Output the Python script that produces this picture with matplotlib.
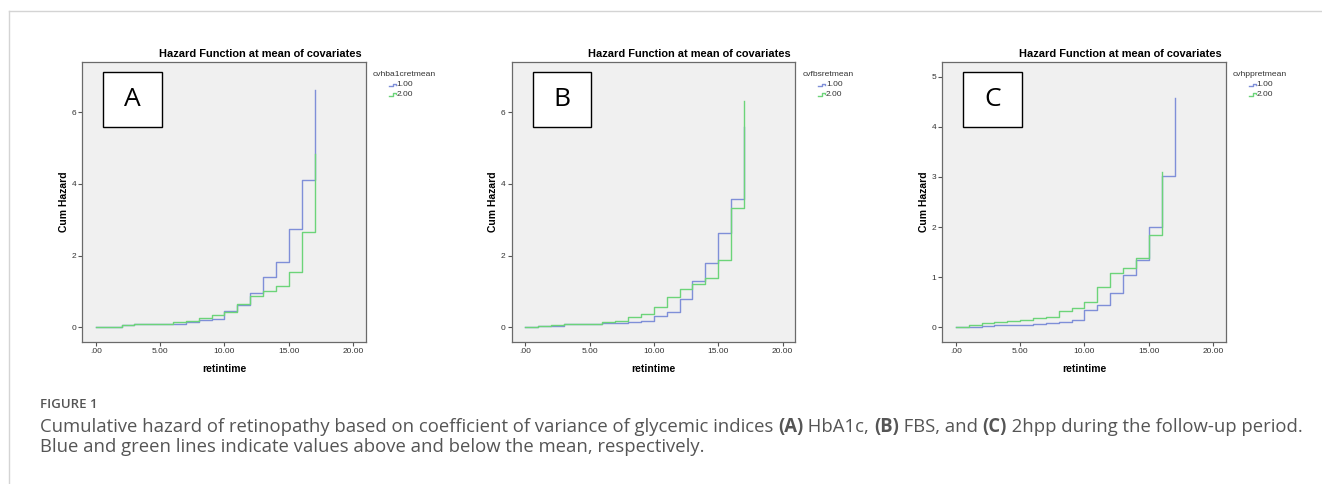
import matplotlib
matplotlib.use("Agg")
import matplotlib.pyplot as plt
from matplotlib.patches import Rectangle
from matplotlib.lines import Line2D

plt.rcParams["font.family"] = ["Liberation Sans", "DejaVu Sans"]

W, H = 1322, 484

# step times (years) and cumulative hazard
times = list(range(0, 18))

a_blue = [0, 0.02, 0.06, 0.08, 0.08, 0.09, 0.08, 0.14, 0.20, 0.22, 0.45, 0.63,
          0.95, 1.40, 1.82, 2.75, 4.10, 6.62]
a_green = [0, 0.02, 0.06, 0.08, 0.08, 0.10, 0.15, 0.17, 0.25, 0.33, 0.44, 0.64,
           0.88, 1.00, 1.15, 1.55, 2.65, 4.82]

b_blue = [0, 0.04, 0.05, 0.08, 0.08, 0.10, 0.12, 0.13, 0.14, 0.18, 0.32, 0.43,
          0.80, 1.28, 1.78, 2.62, 3.57, 5.60]
b_green = [0, 0.03, 0.07, 0.08, 0.08, 0.10, 0.14, 0.17, 0.29, 0.36, 0.57, 0.84,
           1.08, 1.22, 1.37, 1.87, 3.32, 6.30]

c_blue = [0, 0.01, 0.02, 0.04, 0.04, 0.04, 0.06, 0.08, 0.10, 0.15, 0.35, 0.44,
          0.68, 1.05, 1.35, 2.00, 3.01, 4.58]
c_green = [0, 0.04, 0.08, 0.11, 0.12, 0.14, 0.18, 0.21, 0.32, 0.38, 0.50, 0.80,
           1.08, 1.18, 1.38, 1.85, 3.10]

panels = [
    ("A", "cvhba1cretmean", a_blue, a_green, [0, 2, 4, 6], (-0.41, 7.4), 82.3),
    ("B", "cvfbsretmean", b_blue, b_green, [0, 2, 4, 6], (-0.41, 7.4), 511.7),
    ("C", "cvhppretmean", c_blue, c_green, [0, 1, 2, 3, 4, 5], (-0.29, 5.29), 942.3),
]
xticks = [0, 5, 10, 15, 20]
xticklabels = [".00", "5.00", "10.00", "15.00", "20.00"]
groups = ["1.00", "2.00"]

BLUE = "#7f8fd8"
GREEN = "#6cd479"

cap_font = ["Open Sans", "DejaVu Sans"]

fig = plt.figure(figsize=(W / 100, H / 100), dpi=100)

# thin frame around the figure block
fig.add_artist(Line2D([9 / W, 9 / W], [0, 1 - 11 / H], color="#d4d4d4", lw=1))
fig.add_artist(Line2D([9 / W, 1], [1 - 11 / H, 1 - 11 / H], color="#d4d4d4", lw=1))

ax_w, ax_top, ax_bot = 283.7, 62, 342

for letter, legtitle, blue, green, yticks, ylim, left in panels:
    ax = fig.add_axes([left / W, 1 - ax_bot / H, ax_w / W, (ax_bot - ax_top) / H])
    ax.set_facecolor("#f0f0f0")
    ax.step(times[:len(blue)], blue, where="post", color=BLUE, lw=1.0)
    ax.step(times[:len(green)], green, where="post", color=GREEN, lw=1.0)
    ax.set_xlim(-1.05, 21.0)
    ax.set_ylim(*ylim)
    ax.set_xticks(xticks)
    ax.set_xticklabels(xticklabels)
    ax.set_yticks(yticks)
    ax.tick_params(length=3, width=0.8, color="#555555", labelsize=6,
                   labelcolor="#333333", pad=1.5)
    for s in ax.spines.values():
        s.set_color("#6a6a6a")
        s.set_linewidth(0.9)
    ax.set_xlabel("retintime", fontsize=7.5, fontweight="bold", labelpad=6)
    ax.set_ylabel("Cum Hazard", fontsize=7.5, fontweight="bold", labelpad=2)

    # letter badge
    ax.add_patch(Rectangle((0.074, 0.767), 0.206, 0.198, transform=ax.transAxes,
                           facecolor="white", edgecolor="black", lw=1.0, zorder=5))
    ax.text(0.177, 0.866, letter, transform=ax.transAxes, fontsize=19,
            family="Open Sans", ha="center", va="center", zorder=6)

    # title centred over plot + legend
    fig.text((left + 178) / W, 1 - 54 / H, "Hazard Function at mean of covariates",
             fontsize=7.9, fontweight="bold", ha="center", va="center")

    # legend drawn like the SPSS one
    lx = left + ax_w
    fig.text((lx + 7) / W, 1 - 74 / H, legtitle, fontsize=6.1, color="#333333",
             va="center")
    for i, (g, c) in enumerate(zip(groups, [BLUE, GREEN])):
        yy = 85 + i * 9
        mx = [lx + 23, lx + 27, lx + 27, lx + 30, lx + 30]
        my = [yy + 1.5, yy + 1.5, yy - 1.5, yy - 1.5, yy]
        fig.add_artist(Line2D([v / W for v in mx], [1 - v / H for v in my],
                              color=c, lw=1.0))
        fig.text((lx + 30.5) / W, 1 - yy / H, g, fontsize=6, color="#333333",
                 va="center")

# caption
fig.text(40 / W, 1 - 404 / H, "FIGURE 1", fontsize=9.5, color="#555555",
         family=cap_font, fontweight="semibold", va="center")

line1 = [("Cumulative hazard of retinopathy based on coefficient of variance of glycemic indices ", "normal"),
         ("(A)", "bold"), (" HbA1c, ", "normal"), ("(B)", "bold"), (" FBS, and ", "normal"),
         ("(C)", "bold"), (" 2hpp during the follow-up period.", "normal")]
line2 = [("Blue and green lines indicate values above and below the mean, respectively.", "normal")]

fig.canvas.draw()
renderer = fig.canvas.get_renderer()


def put_line(parts, ypx, size):
    x = 40.0
    made = []
    for txt, wt in parts:
        t = fig.text(x / W, 1 - ypx / H, txt, fontsize=size, color="#555555",
                     family=cap_font, fontweight=wt, va="center")
        x += t.get_window_extent(renderer=renderer).width
        made.append(t)
    return x, made


# size the caption so the first line runs to the right edge as in the original
end, tmp = put_line(line1, 427, 10)
for t in tmp:
    t.remove()
size = 10 * (1305 - 40) / (end - 40)
put_line(line1, 427, size)
put_line(line2, 447, size)

fig.savefig("out.png", dpi=100)
